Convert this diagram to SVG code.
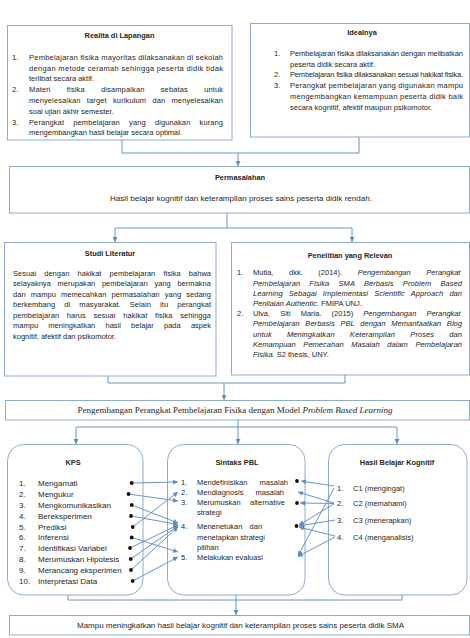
<svg xmlns="http://www.w3.org/2000/svg" width="470" height="638" viewBox="0 0 470 638">
<defs>
<marker id="ar" viewBox="0 0 6 6" refX="6" refY="3" markerWidth="5" markerHeight="5" markerUnits="userSpaceOnUse" orient="auto"><path d="M0,0 L6,3 L0,6 z" fill="#5b8cc6"/></marker>
</defs>
<style>
text{font-family:"Liberation Sans",Arial,sans-serif;font-size:7.5px;fill:#262626}
.b{font-weight:bold;font-size:7.4px}
.i{font-style:italic}
.s{font-family:"Liberation Serif","Times New Roman",serif;font-size:9px}
.k{font-size:8px}
.box{fill:#fff;stroke:#8faad0;stroke-width:1}
.c{fill:none;stroke:#6b95c8;stroke-width:1}
.dot{fill:#111}
</style>
<rect width="470" height="638" fill="#fff"/>

<g id="realita">
<rect class="box" x="7.5" y="25.5" width="224.5" height="114.5"/>
<text class="b" x="119.5" y="37.5" text-anchor="middle">Realita di Lapangan</text>
<text x="12" y="59.8">1.</text>
<text x="29" y="59.8" textLength="194" lengthAdjust="spacing">Pembelajaran fisika mayoritas dilaksanakan di sekolah</text>
<text x="29" y="70.6" textLength="194" lengthAdjust="spacing">dengan metode ceramah sehingga peserta didik tidak</text>
<text x="29" y="81.4">terlibat secara aktif.</text>
<text x="12" y="92.2">2.</text>
<text x="29" y="92.2" word-spacing="14" textLength="194" lengthAdjust="spacing">Materi fisika disampaikan sebatas untuk</text>
<text x="29" y="103" word-spacing="4" textLength="194" lengthAdjust="spacing">menyelesaikan target kurikulum dan menyelesaikan</text>
<text x="29" y="113.8">soal ujian akhir semester.</text>
<text x="12" y="124.6">3.</text>
<text x="29" y="124.6" word-spacing="7" textLength="194" lengthAdjust="spacing">Perangkat pembelajaran yang digunakan kurang</text>
<text x="29" y="135.4">mengembangkan hasil belajar secara optimal.</text>
</g>

<g id="idealnya">
<rect class="box" x="250.5" y="23.5" width="219" height="113.5"/>
<text class="b" x="362" y="34.5" text-anchor="middle">Idealnya</text>
<text x="274" y="55.8">1.</text>
<text x="290" y="55.8" textLength="173" lengthAdjust="spacing">Pembelajaran fisika dilaksanakan dengan melibatkan</text>
<text x="290" y="66.5">peserta didik secara aktif.</text>
<text x="274" y="77.3">2.</text>
<text x="290" y="77.3" textLength="173" lengthAdjust="spacing">Pembelajaran fisika dilaksanakan sesuai hakikat fisika.</text>
<text x="274" y="88">3.</text>
<text x="290" y="88" textLength="173" lengthAdjust="spacing">Perangkat pembelajaran yang digunakan mampu</text>
<text x="290" y="98.8" textLength="173" lengthAdjust="spacing">mengembangkan kemampuan peserta didik baik</text>
<text x="290" y="109.6">secara kognitif, afektif maupun psikomotor.</text>
</g>

<g id="permasalahan">
<rect class="box" x="9.5" y="166.5" width="460" height="46.5"/>
<text class="b" x="240" y="180" text-anchor="middle">Permasalahan</text>
<text x="110" y="200.5" class="k" textLength="262" lengthAdjust="spacing">Hasil belajar kognitif dan keterampilan proses sains peserta didik rendah.</text>
</g>

<g id="studi">
<rect class="box" x="4.5" y="242.5" width="211.5" height="133.5"/>
<text class="b" x="110" y="255.5" text-anchor="middle">Studi Literatur</text>
<text x="13" y="275.8" word-spacing="6" textLength="198" lengthAdjust="spacing">Sesuai dengan hakikat pembelajaran fisika bahwa</text>
<text x="13" y="286.3" word-spacing="4.5" textLength="198" lengthAdjust="spacing">selayaknya merupakan pembelajaran yang bermakna</text>
<text x="13" y="296.8" word-spacing="3" textLength="198" lengthAdjust="spacing">dan mampu memecahkan permasalahan yang sedang</text>
<text x="13" y="307.3" word-spacing="7" textLength="198" lengthAdjust="spacing">berkembang di masyarakat. Selain itu perangkat</text>
<text x="13" y="317.8" word-spacing="5.5" textLength="198" lengthAdjust="spacing">pembelajaran harus sesuai hakikat fisika sehingga</text>
<text x="13" y="328.3" word-spacing="8" textLength="198" lengthAdjust="spacing">mampu meningkatkan hasil belajar pada aspek</text>
<text x="13" y="338.8">kognitif, afektif dan psikomotor.</text>
</g>

<g id="penelitian">
<rect class="box" x="231.5" y="242.5" width="238" height="132.5"/>
<text class="b" x="350" y="257.5" text-anchor="middle">Penelitian yang Relevan</text>
<text x="237" y="275.3">1.</text>
<text x="253" y="275.3" word-spacing="13.5">Mutia, dkk. (2014). <tspan class="i">Pengembangan Perangkat</tspan></text>
<text x="253" y="285.5" class="i" word-spacing="7" textLength="209" lengthAdjust="spacing">Pembelajaran Fisika SMA Berbasis Problem Based</text>
<text x="253" y="295.7" class="i" word-spacing="4" textLength="209" lengthAdjust="spacing">Learning Sebagai Implementasi Scientific Approach dan</text>
<text x="253" y="305.9"><tspan class="i">Penilaian Authentic.</tspan> FMIPA UNJ.</text>
<text x="237" y="316.1">2.</text>
<text x="253" y="316.1" word-spacing="8">Ulva, Siti Maria. (2015) <tspan class="i">Pengembangan Perangkat</tspan></text>
<text x="253" y="326.3" class="i" word-spacing="3.5" textLength="209" lengthAdjust="spacing">Pembelajaran Berbasis PBL dengan Memanfaatkan Blog</text>
<text x="253" y="336.5" class="i" word-spacing="13" textLength="209" lengthAdjust="spacing">untuk Meningkatkan Keterampilan Proses dan</text>
<text x="253" y="346.7" class="i" word-spacing="5.5" textLength="209" lengthAdjust="spacing">Kemampuan Pemecahan Masalah dalam Pembelajaran</text>
<text x="253" y="356.9"><tspan class="i">Fisika.</tspan> S2 thesis, UNY.</text>
</g>

<g id="pengembangan">
<rect class="box" x="5.5" y="400.5" width="464" height="19.5"/>
<text class="s" x="235" y="413.3" text-anchor="middle">Pengembangan Perangkat Pembelajaran Fisika dengan Model <tspan class="i">Problem Based Learning</tspan></text>
</g>

<g id="kps">
<rect class="box" x="7.5" y="444.5" width="135.5" height="150.5" rx="16"/>
<text class="b" x="73" y="465" text-anchor="middle">KPS</text>
<g class="k">
<text class="k" x="19" y="485.9">1.</text><text class="k" x="38" y="485.9">Mengamati</text>
<text class="k" x="19" y="496.9">2.</text><text class="k" x="38" y="496.9">Mengukur</text>
<text class="k" x="19" y="507.9">3.</text><text class="k" x="38" y="507.9">Mengkomunikasikan</text>
<text class="k" x="19" y="518.9">4.</text><text class="k" x="38" y="518.9">Bereksperimen</text>
<text class="k" x="19" y="529.9">5.</text><text class="k" x="38" y="529.9">Prediksi</text>
<text class="k" x="19" y="540.4">6.</text><text class="k" x="38" y="540.4">Inferensi</text>
<text class="k" x="19" y="550.9">7.</text><text class="k" x="38" y="550.9">Identifikasi Variabel</text>
<text class="k" x="19" y="561.9">8.</text><text class="k" x="38" y="561.9">Merumuskan Hipotesis</text>
<text class="k" x="19" y="572.9">9.</text><text class="k" x="38" y="572.9">Merancang eksperimen</text>
<text class="k" x="19" y="583.9">10.</text><text class="k" x="38" y="583.9">Interpretasi Data</text>
</g>
</g>

<g id="sintaks">
<rect class="box" x="167.5" y="444.5" width="137.5" height="150.5" rx="16"/>
<text class="b" x="237" y="464.5" text-anchor="middle">Sintaks PBL</text>
<text x="181" y="484.8">1.</text><text x="197" y="484.8" word-spacing="10" textLength="91" lengthAdjust="spacing">Mendefinisikan masalah</text>
<text x="181" y="494.8">2.</text><text x="197" y="494.8" word-spacing="10" textLength="87" lengthAdjust="spacing">Mendiagnosis masalah</text>
<text x="181" y="504.8">3.</text><text x="197" y="504.8" word-spacing="7" textLength="88" lengthAdjust="spacing">Merumuskan alternative</text>
<text x="197" y="514.8">strategi</text>
<text x="181" y="528.5">4.</text><text x="197" y="528.5" word-spacing="5">Menenetukan dan</text>
<text x="197" y="539.5">menetapkan strategi</text>
<text x="197" y="549.5">pilihan</text>
<text x="181" y="559.8">5.</text><text x="197" y="559.8">Melakukan evaluasi</text>
</g>

<g id="hasil">
<rect class="box" x="328.5" y="444.5" width="138.5" height="150.5" rx="16"/>
<text class="b" x="397" y="464.5" text-anchor="middle">Hasil Belajar Kognitif</text>
<text x="337" y="490.5">1.</text><text x="353" y="490.5">C1 (mengingat)</text>
<text x="337" y="506">2.</text><text x="353" y="506">C2 (memahami)</text>
<text x="337" y="522.8">3.</text><text x="353" y="522.8">C3 (menerapkan)</text>
<text x="337" y="539.5">4.</text><text x="353" y="539.5">C4 (menganalisis)</text>
</g>

<g id="final">
<rect class="box" x="9.5" y="615.5" width="460" height="19.5"/>
<text class="k" x="77" y="628" textLength="327" lengthAdjust="spacing">Mampu meningkatkan hasil belajar kognitif dan keterampilan proses sains peserta didik SMA</text>
</g>

<g id="connectors">
<path class="c" d="M122,140 V153 H359 V137"/>
<path class="c" d="M238,153 V166" marker-end="url(#ar)"/>
<path class="c" d="M227,213 V228 M115,228 H352"/>
<path class="c" d="M115,228 V242" marker-end="url(#ar)"/>
<path class="c" d="M352,228 V242" marker-end="url(#ar)"/>
<path class="c" d="M108,376 V383 H345 V375"/>
<path class="c" d="M224,383 V400" marker-end="url(#ar)"/>
<path class="c" d="M238,420 V427 M76,427 H397"/>
<path class="c" d="M76,427 V444" marker-end="url(#ar)"/>
<path class="c" d="M238,427 V444" marker-end="url(#ar)"/>
<path class="c" d="M397,427 V444" marker-end="url(#ar)"/>
<path class="c" d="M68,595 V600 H402 V595"/>
<path class="c" d="M236,595 V615" marker-end="url(#ar)"/>

<g marker-end="url(#ar)">
<path class="c" d="M131.7,483 L178,482"/>
<path class="c" d="M128.5,494 L178,501"/>
<path class="c" d="M131.7,505 L178,523"/>
<path class="c" d="M131,516 L178,524.5"/>
<path class="c" d="M132.7,527 L178,492"/>
<path class="c" d="M131.7,537.5 L178,552"/>
<path class="c" d="M130,548 L178,525"/>
<path class="c" d="M130.7,559 L178,526"/>
<path class="c" d="M131,570 L178,527"/>
<path class="c" d="M132.7,581 L178,557"/>

<path class="c" d="M334,486 L301,481"/>
<path class="c" d="M334,488 L298,556"/>
<path class="c" d="M334,503 L298,492"/>
<path class="c" d="M334,503.5 L300,503"/>
<path class="c" d="M334,504 L299,525"/>
<path class="c" d="M335,520 L299,526"/>
<path class="c" d="M335,536 L299,527"/>
<path class="c" d="M335,537 L298,556.5"/>
</g>

<g class="dot">
<circle cx="131.7" cy="483" r="1.9"/>
<circle cx="128.5" cy="494" r="1.9"/>
<circle cx="131.7" cy="505" r="1.9"/>
<circle cx="131" cy="516" r="1.9"/>
<circle cx="132.7" cy="527" r="1.9"/>
<circle cx="131.7" cy="537.5" r="1.9"/>
<circle cx="130" cy="548" r="1.9"/>
<circle cx="130.7" cy="559" r="1.9"/>
<circle cx="131" cy="570" r="1.9"/>
<circle cx="132.7" cy="581" r="1.9"/>
<circle cx="297" cy="481" r="1.9"/>
<circle cx="297" cy="503" r="1.9"/>
<circle cx="296.5" cy="526" r="1.9"/>
</g>
</g>
</svg>
